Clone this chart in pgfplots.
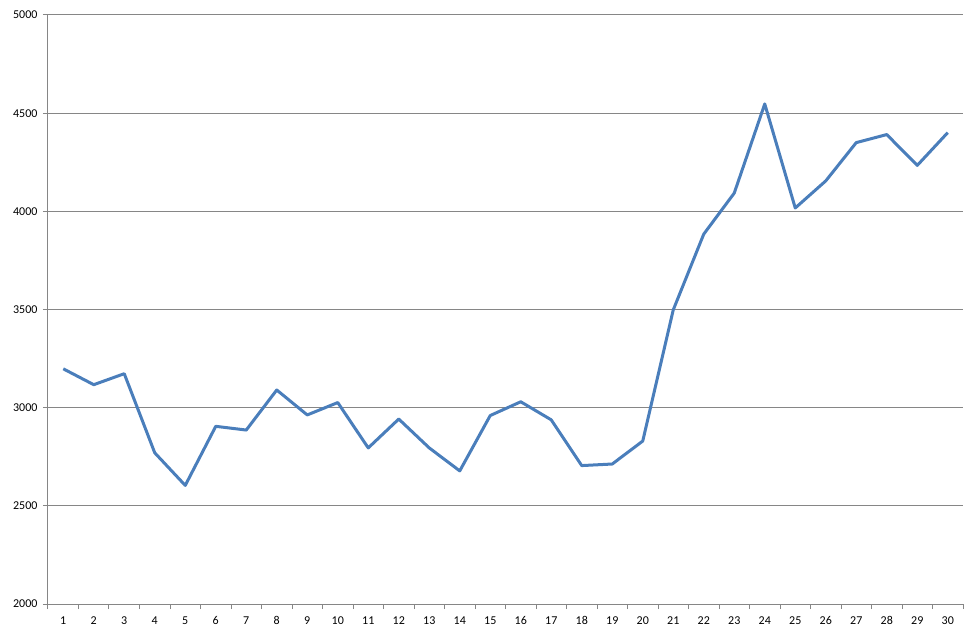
\documentclass[border=0pt]{standalone}
\usepackage{fontspec}
\setmainfont{Carlito}
\usepackage{pgfplots}
\pgfplotsset{compat=1.18}
\definecolor{linec}{HTML}{4A7EBB}
\definecolor{gridc}{HTML}{868686}
\begin{document}
\begin{tikzpicture}[x=1pt,y=1pt]
\useasboundingbox (0,0) rectangle (977,638);
\begin{axis}[
  at={(48pt,34pt)}, anchor=south west,
  scale only axis, width=915pt, height=589pt,
  xmin=0.5, xmax=30.5, ymin=2000, ymax=5000,
  axis x line*=bottom, axis y line*=left,
  axis line style={gridc, line width=1pt},
  xtick={1,...,30},
  minor xtick={0.5,1.5,...,30.5},
  major x tick style={draw=none},
  minor x tick style={gridc, line width=1pt},
  ytick={2000,2500,...,5000},
  y tick style={gridc, line width=1pt},
  tick align=outside,
  major tick length=5pt, minor tick length=5pt,
  ymajorgrids, grid style={gridc, line width=1pt},
  /pgf/number format/assume math mode=true,
  /pgf/number format/1000 sep={},
  ticklabel style={font=\fontsize{12}{14}\selectfont, text=black},
  xticklabel style={yshift=-4pt},
  yticklabel style={xshift=-2pt},
  clip=false,
]
\addplot[linec, line width=3pt, line join=round] coordinates {
(1,3198) (2,3117) (3,3173) (4,2770) (5,2604) (6,2905) (7,2886) (8,3090)
(9,2963) (10,3026) (11,2795) (12,2942) (13,2795) (14,2678) (15,2960)
(16,3030) (17,2938) (18,2705) (19,2713) (20,2830) (21,3498) (22,3884)
(23,4093) (24,4547) (25,4017) (26,4155) (27,4350) (28,4391) (29,4234) (30,4401)
};
\end{axis}
\end{tikzpicture}
\end{document}
